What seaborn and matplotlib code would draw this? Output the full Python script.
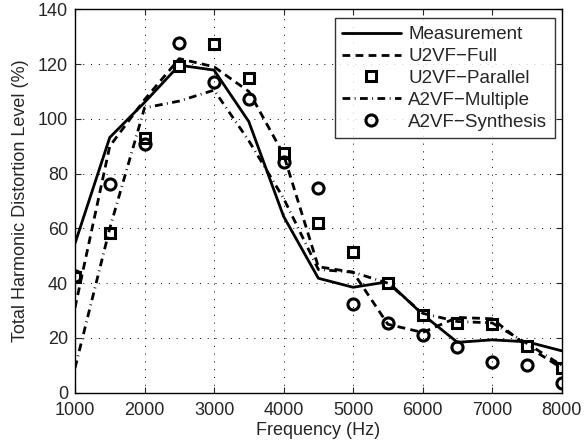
import matplotlib
matplotlib.use("Agg")
import matplotlib.pyplot as plt
import seaborn as sns
import pandas as pd

freq = [1000, 1500, 2000, 2500, 3000, 3500, 4000, 4500, 5000, 5500, 6000, 6500, 7000, 7500, 8000]
measurement = [54.5, 93.2, 106, 119.6, 117.8, 99, 64.4, 41.8, 38.5, 40.5, 28.6, 18.4, 19.3, 18.6, 15.3]
u2vf_full = [31, 90, 107, 122, 119, 110, 87, 46, 44, 25, 22, 27.5, 27, 17, 9]
u2vf_parallel = [42.4, 58.2, 92.9, 119.3, 127.3, 115.1, 87.4, 61.8, 51.5, 40, 28.4, 25.6, 25, 17.2, 9.1]
a2vf_multiple = [9, 60, 104, 106.5, 110.5, 92, 71, 45, 44, 40, 29, 26, 25.5, 18, 10]
a2vf_synthesis = [42.5, 76.1, 90.8, 127.8, 113.5, 107.2, 84.1, 74.6, 32.4, 25.3, 21, 16.8, 11.3, 10.1, 3.4]

labels = ["Measurement", "U2VF\u2212Full", "U2VF\u2212Parallel", "A2VF\u2212Multiple", "A2VF\u2212Synthesis"]
xticks = [1000, 2000, 3000, 4000, 5000, 6000, 7000, 8000]
yticks = [0, 20, 40, 60, 80, 100, 120, 140]

sns.set_style("white")
plt.rcParams["font.family"] = ["Liberation Sans", "DejaVu Sans"]
plt.rcParams["font.size"] = 13

fig = plt.figure(figsize=(5.84, 4.44), dpi=100)
ax = fig.add_axes([0.1284, 0.1155, 0.8334, 0.8635])

lw = 2.0
sns.lineplot(x=freq, y=measurement, ax=ax, color="black", linewidth=lw, label=labels[0])
l1 = sns.lineplot(x=freq, y=u2vf_full, ax=ax, color="black", linewidth=lw, label=labels[1]).lines[-1]
l1.set_dashes((2.8, 1.9))
sns.lineplot(x=freq, y=u2vf_parallel, ax=ax, color="black", linestyle="none", marker="s",
             markersize=6.5, markerfacecolor="white", markeredgecolor="black", markeredgewidth=2.2,
             label=labels[2])
l3 = sns.lineplot(x=freq, y=a2vf_multiple, ax=ax, color="black", linewidth=lw, label=labels[3]).lines[-1]
l3.set_dashes((2.8, 1.6, 0.3, 1.6))
sns.lineplot(x=freq, y=a2vf_synthesis, ax=ax, color="black", linestyle="none", marker="o",
             markersize=8, markerfacecolor="none", markeredgecolor="black", markeredgewidth=2.2,
             label=labels[4])

ax.set_xlim(1000, 8000)
ax.set_ylim(0, 140)
ax.set_xticks(xticks)
ax.set_yticks(yticks)
ax.set_xticklabels([str(t) for t in xticks], fontsize=13)
ax.set_yticklabels([str(t) for t in yticks], fontsize=13)
ax.set_xlabel("Frequency (Hz)", fontsize=13, labelpad=2)
ax.set_ylabel("Total Harmonic Distortion Level (%)", fontsize=13, labelpad=6)
ax.grid(True, linestyle=(0, (1, 7)), color="black", linewidth=0.7)
ax.tick_params(axis="x", direction="in", length=4, top=True, bottom=True, pad=6.5)
ax.tick_params(axis="y", direction="in", length=4, left=True, right=True, pad=5)
for s in ax.spines.values():
    s.set_color("black")
    s.set_linewidth(1.0)

leg = ax.legend(loc="upper right", bbox_to_anchor=(0.986, 0.9765), frameon=True, fancybox=False,
                edgecolor="black", fontsize=13.5, handlelength=3.1, borderpad=0.42,
                labelspacing=0.25, handletextpad=0.4, borderaxespad=0)
leg.get_frame().set_linewidth(1.0)

fig.savefig("out.png", dpi=100)
